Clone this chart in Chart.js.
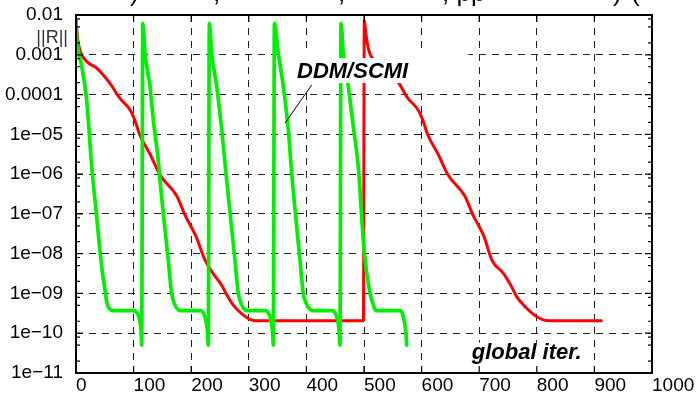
<!DOCTYPE html>
<html>
<head>
<meta charset="utf-8">
<script src="https://cdn.jsdelivr.net/npm/chart.js@4/dist/chart.umd.min.js"></script>
<style>
html,body{margin:0;padding:0;background:#fff;}
canvas{display:block;}
</style>
</head>
<body>
<canvas id="c" width="697" height="397"></canvas>
<script>
// ---- data (global iteration vs residual norm) ----
const xTicks = [0, 100, 200, 300, 400, 500, 600, 700, 800, 900, 1000];
const yTicks = [1e-11, 1e-10, 1e-9, 1e-8, 1e-7, 1e-6, 1e-5, 1e-4, 1e-3, 1e-2];
const yTickLabels = ['1e\u221211','1e\u221210','1e\u221209','1e\u221208','1e\u221207','1e\u221206','1e\u221205','0.0001','0.001','0.01'];

// red curve (single iteration run, restarted at 500)
const redX = [0, 3, 7, 18.5, 36, 59, 76, 94, 102, 111, 128, 146, 175, 190, 208, 224, 238, 253, 262, 273, 290, 308, 331, 499,
              500.5, 503.5, 509, 520, 536, 559, 576, 594, 602, 611, 628, 646, 675, 690, 708, 722, 742, 756, 765, 782, 800, 817, 852, 912];
const redY = [7.4e-3, 2.5e-3, 1.26e-3, 6.8e-4, 4.6e-4, 1.9e-4, 8.1e-5, 4.1e-5, 2.3e-5, 9.5e-6, 3.3e-6, 9.5e-7, 2.8e-7, 8.9e-8, 2.8e-8, 6.9e-9, 3.2e-9, 1.6e-9, 9.1e-10, 5.1e-10, 2.9e-10, 2.1e-10, 2.05e-10, 2.05e-10,
              7.4e-3, 3.2e-3, 1.2e-3, 6.8e-4, 4.6e-4, 2.1e-4, 8.1e-5, 4.1e-5, 2.3e-5, 9.5e-6, 3.3e-6, 9.5e-7, 2.8e-7, 8.9e-8, 2.8e-8, 6.9e-9, 3.2e-9, 1.5e-9, 8.3e-10, 4.3e-10, 2.6e-10, 2.1e-10, 2.05e-10, 2.05e-10];

// green curve (DDM/SCMI, five cycles)
const greenX = [0, 1.5, 2.5, 10, 18.6, 27.3, 35.9, 44.6, 50.3, 53, 56, 60, 65, 99, 104, 108, 111, 112.5, 113.5, 114,
                116, 119.8, 128.5, 134.2, 142.9, 145.8, 160.2, 166.1, 170, 174.8, 180.6, 215.3, 220, 224, 226.5, 228.6, 229.7,
                231.5, 235.6, 244.3, 253, 261.6, 276, 281.8, 286, 290.5, 296.4, 328.1, 333, 336.8, 339.5, 341.5, 342.5,
                344.5, 351.2, 359.9, 368.6, 374.5, 388.9, 394.6, 400, 406.3, 412, 444, 449, 452.6, 455.5, 457.1, 458.3,
                460, 464.1, 472.7, 481.4, 490.1, 500, 510.4, 515, 519.1, 522, 562.5, 566.5, 569.4, 572.9, 574.1];
const greenY = [7.4e-3, 2.5e-3, 1.8e-3, 5e-4, 7.2e-5, 1.55e-6, 8.5e-8, 4.7e-9, 1.23e-9, 6.6e-10, 4.6e-10, 3.9e-10, 3.7e-10, 3.7e-10, 3.5e-10, 2.9e-10, 2e-10, 1.4e-10, 8e-11, 5e-11,
                6.2e-3, 1.1e-3, 1.6e-4, 2.3e-5, 2.2e-6, 7.1e-7, 6.9e-9, 1e-9, 6e-10, 4.3e-10, 3.7e-10, 3.7e-10, 3.4e-10, 2.6e-10, 1.7e-10, 1e-10, 5e-11,
                6.2e-3, 1.1e-3, 1.6e-4, 1.3e-5, 7.1e-7, 6.9e-9, 1e-9, 6e-10, 4.3e-10, 3.7e-10, 3.7e-10, 3.4e-10, 2.6e-10, 1.7e-10, 1e-10, 5e-11,
                6.2e-3, 1.1e-3, 1.6e-4, 1.3e-5, 1.05e-6, 6.9e-9, 1e-9, 5.5e-10, 4e-10, 3.7e-10, 3.7e-10, 3.4e-10, 2.6e-10, 1.7e-10, 1e-10, 5e-11,
                6.2e-3, 1.1e-3, 1.6e-4, 1.55e-5, 1.55e-6, 1.3e-8, 1e-9, 5.8e-10, 3.9e-10, 3.7e-10, 3.7e-10, 3.2e-10, 2.1e-10, 1e-10, 5e-11];

const FONT = "'Liberation Sans', Arial, Helvetica, sans-serif";

const overlay = {
  id: 'overlay',
  beforeDatasetsDraw(chart) {
    const c = chart.ctx, xs = chart.scales.x, ys = chart.scales.y;
    c.save();
    c.fillStyle = '#fff';
    // grid masks behind the labels
    let x1 = xs.getPixelForValue(361), x2 = xs.getPixelForValue(681);
    let y1 = ys.getPixelForValue(1.3e-3), y2 = ys.getPixelForValue(1.5e-4);
    c.fillRect(x1, y1, x2 - x1, y2 - y1);
    x1 = xs.getPixelForValue(683); x2 = xs.getPixelForValue(895);
    y1 = ys.getPixelForValue(5.8e-11);
    c.fillRect(x1, y1, x2 - x1, chart.chartArea.bottom - 1 - y1);
    c.restore();
  },
  afterDatasetsDraw(chart) {
    const c = chart.ctx, xs = chart.scales.x, ys = chart.scales.y, a = chart.chartArea;
    c.save();
    // DDM/SCMI label with white box
    c.font = 'italic bold 22px ' + FONT;
    c.textBaseline = 'alphabetic';
    c.textAlign = 'left';
    const lx = xs.getPixelForValue(383.7), ly = ys.getPixelForValue(2.6e-4);
    const w = c.measureText('DDM/SCMI').width;
    c.fillStyle = '#fff';
    c.fillRect(lx - 3, ly - 20, w + 6, 25);
    c.fillStyle = '#000';
    c.fillText('DDM/SCMI', lx, ly);
    // pointer line
    c.strokeStyle = '#000'; c.lineWidth = 1;
    c.beginPath();
    c.moveTo(xs.getPixelForValue(409.2), ys.getPixelForValue(1.74e-4));
    c.lineTo(xs.getPixelForValue(362.8), ys.getPixelForValue(1.9e-5));
    c.stroke();
    // global iter.
    c.fillText('global iter.', xs.getPixelForValue(687), ys.getPixelForValue(2.2e-11));

    // frame
    c.strokeStyle = '#000'; c.lineWidth = 2;
    c.strokeRect(a.left, a.top, a.right - a.left, a.bottom - a.top);
    // ticks
    c.lineWidth = 1.2;
    c.beginPath();
    yTicks.forEach(v => {
      const y = ys.getPixelForValue(v);
      c.moveTo(a.left, y); c.lineTo(a.left + 7, y);
      c.moveTo(a.right, y); c.lineTo(a.right - 7, y);
      [2, 5, 8].forEach(k => {
        const mv = v * k;
        if (mv < 1e-2) {
          const my = ys.getPixelForValue(mv);
          c.moveTo(a.left, my); c.lineTo(a.left + 4, my);
          c.moveTo(a.right, my); c.lineTo(a.right - 4, my);
        }
      });
    });
    xTicks.forEach(v => {
      const x = xs.getPixelForValue(v);
      c.moveTo(x, a.bottom); c.lineTo(x, a.bottom - 7);
      c.moveTo(x, a.top); c.lineTo(x, a.top + 7);
    });
    c.stroke();

    // ||R|| label
    c.font = '18px ' + FONT;
    c.fillStyle = '#333';
    c.textAlign = 'right';
    c.textBaseline = 'middle';
    c.fillText('||R||', a.left - 8, a.top + 23);

    // cut-off title fragments at the top edge
    c.fillStyle = '#000';
    c.font = '26px ' + FONT;
    c.textBaseline = 'alphabetic';
    c.textAlign = 'left';
    [[130, ')'], [213, ','], [338, ','], [442, ', pp'], [613, ')'], [631, '(']].forEach(p => c.fillText(p[1], p[0], 1));
    c.restore();
  }
};

const green = greenX.map((x, i) => ({x: x, y: greenY[i]}));
const red = redX.map((x, i) => ({x: x, y: redY[i]}));

new Chart(document.getElementById('c'), {
  type: 'line',
  data: {
    datasets: [
      {label: 'DDM/SCMI', data: green, borderColor: '#00f000', borderWidth: 3.7, pointRadius: 0,
       cubicInterpolationMode: 'monotone', borderJoinStyle: 'round', borderCapStyle: 'round'},
      {label: 'global', data: red, borderColor: '#ff0000', borderWidth: 3, pointRadius: 0,
       cubicInterpolationMode: 'monotone', borderJoinStyle: 'round', borderCapStyle: 'round'}
    ]
  },
  options: {
    responsive: false,
    animation: false,
    events: [],
    layout: {padding: {left: 0, right: 45, top: 15, bottom: 0}},
    plugins: {legend: {display: false}, tooltip: {enabled: false}, title: {display: false}},
    scales: {
      x: {
        type: 'linear', min: 0, max: 1000,
        afterBuildTicks: s => { s.ticks = xTicks.map(v => ({value: v})); },
        ticks: {align: 'start', padding: 1, color: '#000', font: {size: 19, family: FONT}, maxRotation: 0, autoSkip: false,
                callback: v => String(v)},
        grid: {color: '#222', lineWidth: 1, drawTicks: false},
        border: {display: false, dash: [7, 6]},
        afterFit: s => { s.height = 24; s.paddingLeft = 0; s.paddingRight = 0; s.paddingTop = 0; s.paddingBottom = 0; }
      },
      y: {
        type: 'logarithmic', min: 1e-11, max: 1e-2,
        afterBuildTicks: s => { s.ticks = yTicks.map(v => ({value: v})); },
        ticks: {padding: 13, color: '#000', font: {size: 19, family: FONT}, autoSkip: false,
                callback: function(v) { const i = yTicks.findIndex(t => Math.abs(Math.log10(t) - Math.log10(v)) < 0.01); return i >= 0 ? yTickLabels[i] : ''; }},
        grid: {color: '#222', lineWidth: 1, drawTicks: false},
        border: {display: false, dash: [7, 6]},
        afterFit: s => { s.width = 76; s.paddingLeft = 0; s.paddingRight = 0; s.paddingTop = 0; s.paddingBottom = 0; }
      }
    }
  },
  plugins: [overlay]
});
</script>
</body>
</html>
